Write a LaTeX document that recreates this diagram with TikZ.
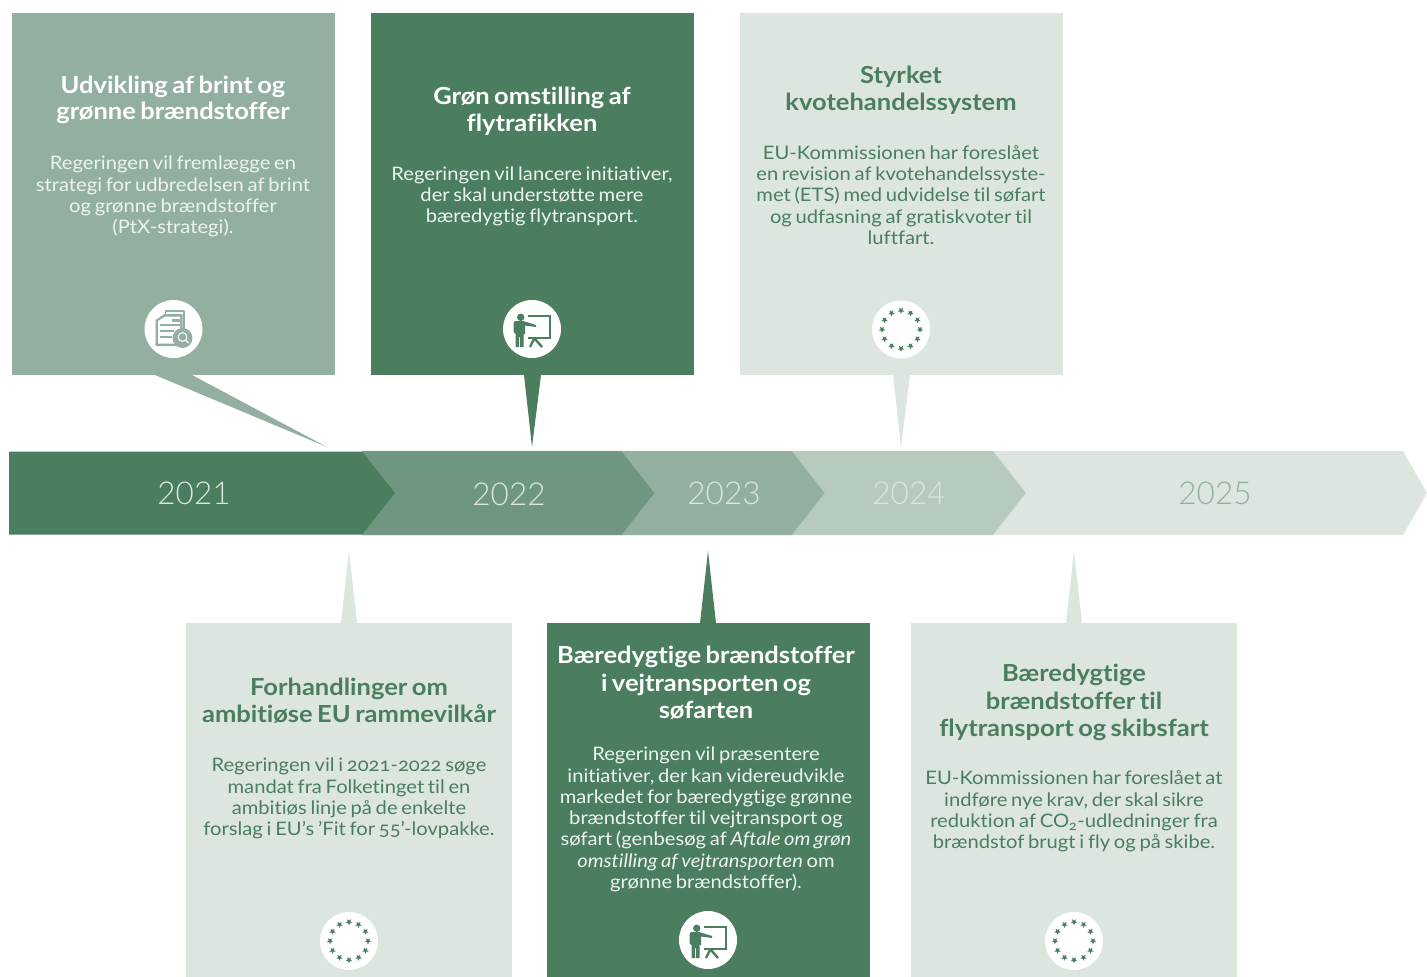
\documentclass[tikz,border=0pt]{standalone}
\usepackage{fontspec}
\setmainfont{Lato}[FakeStretch=1.085,Ligatures=NoCommon,WordSpace=0.72,Numbers=OldStyle]
\newfontfamily\yearfont{Lato Light}
\definecolor{gA}{HTML}{4A7E5F}
\definecolor{gB}{HTML}{6F9681}
\definecolor{gC}{HTML}{93AFA0}
\definecolor{gD}{HTML}{B6CBBE}
\definecolor{gE}{HTML}{DCE6DF}
\definecolor{txtlight}{HTML}{EDF3EF}
\tikzset{
  box/.style={fill=#1,draw=none,inner sep=0pt,outer sep=0pt,anchor=north west},
  callout/.style={fill=#1,draw=none},
  badge/.style={circle,fill=white,draw=none,minimum size=58pt,inner sep=0pt},
  head/.style={align=center,text=#1,font=\fontsize{23.5}{27.3}\selectfont\bfseries,inner sep=0pt},
  body/.style={align=center,text=#1,font=\fontsize{18.6}{21.3}\selectfont,inner sep=0pt},
  year/.style={text=#1,font=\fontsize{31.5}{36}\yearfont,inner sep=0pt},
  chev/.style={fill=#1,draw=white!35!#1,line width=.4pt},
  pics/eu/.style={code={
    \foreach \a in {0,30,...,330}{
      \begin{scope}[shift={(\a:19)}]
        \fill[gA] (90:3.3)--(126:1.5)--(162:3.3)--(198:1.5)--(234:3.3)--(270:1.5)--(306:3.3)--(342:1.5)--(18:3.3)--(54:1.5)--cycle;
      \end{scope}}
  }},
  pics/presenter/.style={code={
    \fill[gA] (-11.3,-11.7) circle (3.7);
    \fill[gA] (-17,-8) -- (-9,-8) -- (4,-4) -- (4,-2) -- (-7,-3.5) -- (-7,5) -- (-8.5,5) -- (-8.5,18) -- (-12,18) -- (-12,8) -- (-13,8) -- (-13,18) -- (-16.5,18) -- (-16.5,5) -- (-18.5,3) -- (-18.5,-6) -- cycle;
    \draw[gA,line width=2pt] (-4,-13) -- (17.7,-13) -- (17.7,8.5) -- (-3.7,8.5);
    \draw[gA,line width=2.4pt] (2,10) -- (-2,18) (2,10) -- (3,10) (3,10) -- (10,18);
  }},
  pics/docicon/.style={code={
    \draw[gC,line width=1.7pt,line join=round] (-8,-12) -- (-8,-18) -- (10.5,-18) -- (10.5,2);
    \fill[gC] (-18,-9) -- (-9,-15) -- (9,-15) -- (9,17) -- (-18,17) -- cycle;
    \fill[white] (-15.5,-8) -- (-8,-12.5) -- (6.5,-12.5) -- (6.5,14.5) -- (-15.5,14.5) -- cycle;
    \fill[gC] (-2,-10) rectangle (6,-7.4);
    \fill[gC] (-13.5,-5) rectangle (6,-2.6);
    \fill[gC] (-13.5,1) rectangle (0,3.4);
    \fill[gC] (-13.5,7) rectangle (-2,9.4);
    \fill[gC] (9,9) circle (10);
    \draw[white,line width=1pt] (9,8) circle (4.4);
    \draw[white,line width=1.4pt] (12.2,11.2) -- (15,14);
  }}
}
\begin{document}
\begin{tikzpicture}[x=1pt,y=-1pt]
\useasboundingbox (0,0) rectangle (1427,977);
% timeline
\fill[gE] (993,451) -- (1403,451) -- (1427,493) -- (1403,535) -- (993,535) -- cycle;
\path[chev=gD] (792,451) -- (993,451) -- (1026,493) -- (993,535) -- (792,535) -- cycle;
\path[chev=gC] (622,451) -- (792,451) -- (825,493) -- (792,535) -- (622,535) -- cycle;
\path[chev=gB] (362,451) -- (622,451) -- (655,493) -- (622,535) -- (362,535) -- cycle;
\path[fill=gA] (9,451.5) -- (362,451.5) -- (395,493) -- (362,534.5) -- (9,534.5) -- cycle;
\node[year=gE] (y21) at (194,493) {2021};
\node[year=gE] (y22) at (509,494) {2022};
\node[year=gE] (y23) at (724,493) {2023};
\node[year=gE] (y24) at (909,493) {2024};
\node[year=gC] (y25) at (1215,493) {2025};
% boxes
\node[box=gC,minimum width=323pt,minimum height=362pt] (a) at (12,13) {};
\node[box=gA,minimum width=323pt,minimum height=362pt] (b) at (371,13) {};
\node[box=gE,minimum width=323pt,minimum height=362pt] (c) at (740,13) {};
\node[box=gE,minimum width=326pt,minimum height=354pt] (d) at (186,623) {};
\node[box=gA,minimum width=323pt,minimum height=354pt] (e) at (547,623) {};
\node[box=gE,minimum width=326pt,minimum height=354pt] (f) at (911,623) {};
% callouts
\coordinate (pa) at (327,447);
\coordinate (pb) at (532,447);
\coordinate (pc) at (901,447);
\coordinate (pd) at (349,551);
\coordinate (pe) at (708,551);
\coordinate (pf) at (1074,551);
\fill[callout=gC] (155,375) -- (192,375) -- (pa) -- cycle;
\fill[callout=gA] (524,375) -- (541,375) -- (pb) -- cycle;
\fill[callout=gE] (893,375) -- (910,375) -- (pc) -- cycle;
\fill[callout=gE] (341,623) -- (357,623) -- (pd) -- cycle;
\fill[callout=gA] (700,623) -- (716,623) -- (pe) -- cycle;
\fill[callout=gE] (1066,623) -- (1082,623) -- (pf) -- cycle;
% box A
\node[head=white,font=\fontsize{23.5}{26.3}\selectfont\bfseries] (ah) at (173,100) {Udvikling af brint og\\grønne brændstoffer};
\node[body=txtlight] (at) at (173,196.5) {Regeringen vil fremlægge en\\strategi for udbredelsen af brint\\og grønne brændstoffer\\(PtX-strategi).};
\node[badge] (ai) at (173.5,329) {};
\pic at (ai.center) {docicon};
% box B
\node[head=white] (bh) at (532,111.5) {Grøn omstilling af\\flytrafikken};
\node[body=txtlight] (bt) at (532,196.5) {Regeringen vil lancere initiativer,\\der skal understøtte mere\\bæredygtig flytransport.};
\node[badge] (bi) at (532,329) {};
\pic at (bi.center) {presenter};
% box C
\node[head=gA] (ch) at (901,90) {Styrket\\kvotehandelssystem};
\node[body=gA] (ct) at (901,195) {EU-Kommissionen har foreslået\\en revision af kvotehandelssyste-\\met (ETS) med udvidelse til søfart\\og udfasning af gratiskvoter til\\luftfart.};
\node[badge] (ci) at (901,329.5) {};
\pic at (ci.center) {eu};
% box D
\node[head=gA] (dh) at (349,701) {Forhandlinger om\\ambitiøse EU rammevilkår};
\node[body=gA] (dt) at (349,798.5) {Regeringen vil i 2021-2022 søge\\mandat fra Folketinget til en\\ambitiøs linje på de enkelte\\forslag i EU's 'Fit for 55'-lovpakke.};
\node[badge] (di) at (349,941) {};
\pic at (di.center) {eu};
% box E
\node[head=white] (eh) at (706,683) {Bæredygtige brændstoffer\\i vejtransporten og\\søfarten};
\node[body=txtlight] (et) at (706,819.5) {Regeringen vil præsentere\\initiativer, der kan videreudvikle\\markedet for bæredygtige grønne\\brændstoffer til vejtransport og\\søfart (genbesøg af \textit{Aftale om grøn}\\\textit{omstilling af vejtransporten} om\\grønne brændstoffer).};
\node[badge] (ei) at (708,940) {};
\pic at (ei.center) {presenter};
% box F
\node[head=gA] (fh) at (1074,702.5) {Bæredygtige\\brændstoffer til\\flytransport og skibsfart};
\node[body=gA] (ft) at (1074,811.5) {EU-Kommissionen har foreslået at\\indføre nye krav, der skal sikre\\reduktion af CO\textsubscript{2}-udledninger fra\\brændstof brugt i fly og på skibe.};
\node[badge] (fi) at (1074,941) {};
\pic at (fi.center) {eu};
\end{tikzpicture}
\end{document}
